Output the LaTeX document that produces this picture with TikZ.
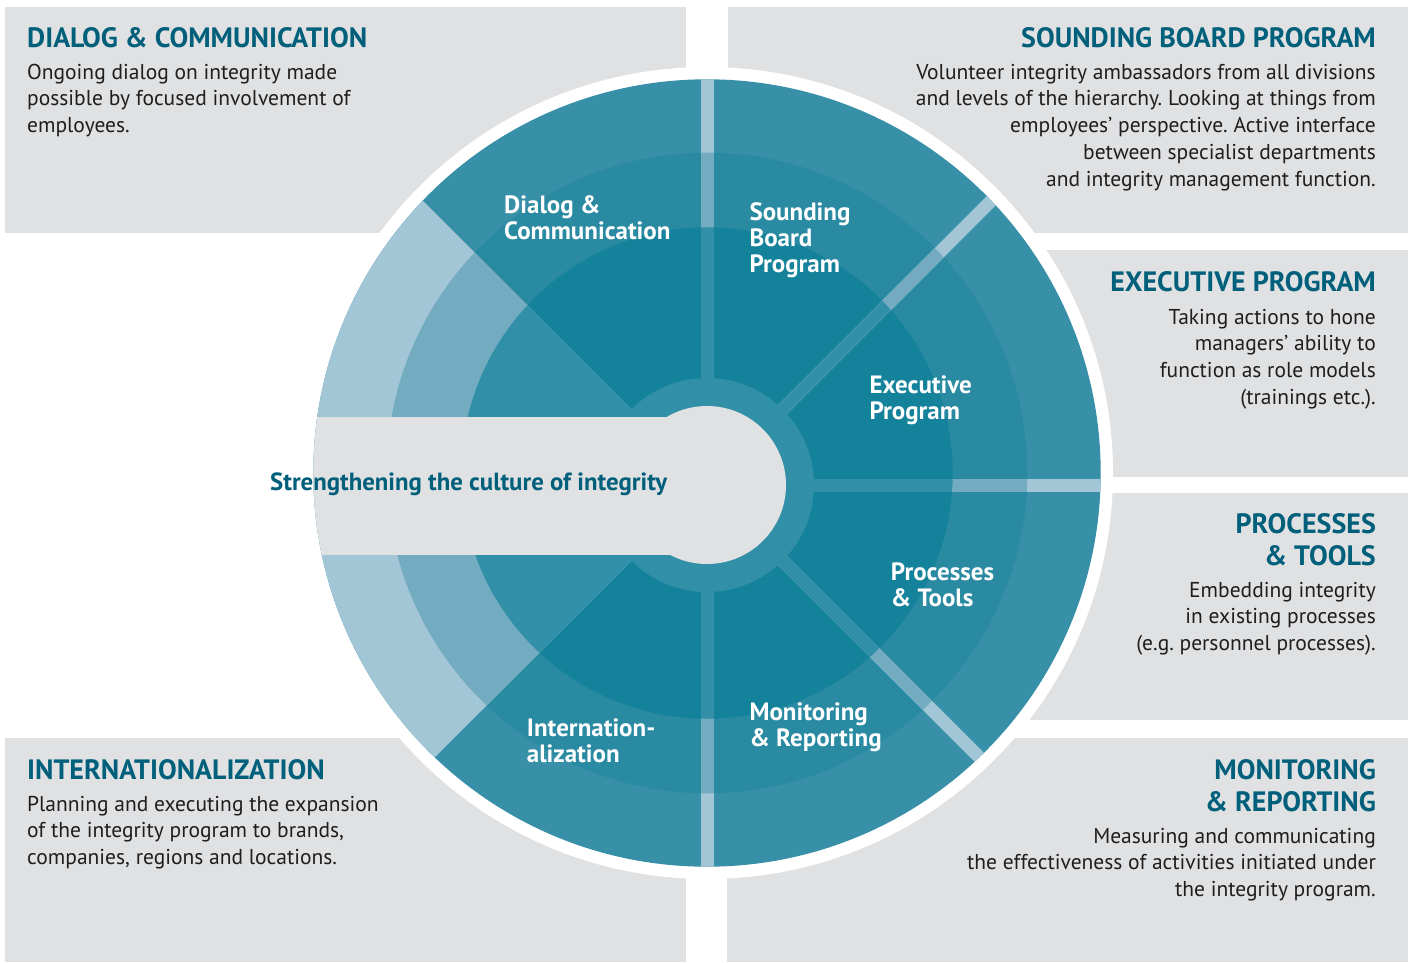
\documentclass[tikz,border=0pt]{standalone}
\usepackage{fontspec}
\setmainfont{PT Sans}
\frenchspacing
\definecolor{greyc}{HTML}{E0E1E3}
\definecolor{ringA}{HTML}{3790A8}
\definecolor{ringB}{HTML}{298AA2}
\definecolor{ringC}{HTML}{15829C}
\definecolor{hubc}{HTML}{318FA8}
\definecolor{lightA}{HTML}{A3C6D6}
\definecolor{lightB}{HTML}{73ACC0}
\definecolor{headc}{HTML}{005F7A}
\definecolor{bodyc}{HTML}{1E1E1E}
\newcommand\tstrut{\rule{0pt}{24pt}}
\tikzset{
  box/.style={fill=greyc, draw=none},
  head/.style={font=\bfseries\fontsize{28}{32}\selectfont, text=headc, inner sep=0},
  body/.style={font=\fontsize{21.5}{26.75}\selectfont, text=bodyc, inner sep=0},
  seg/.style={font=\bfseries\fontsize{25}{26}\selectfont, text=white, inner sep=0, align=left, anchor=north west},
  spoke/.style={line width=13, line cap=butt},
}
\begin{document}
\begin{tikzpicture}[x=1pt,y=-1pt]
\useasboundingbox (0,0) rectangle (1413,963);
\fill[white] (0,0) rectangle (1413,963);
\coordinate (C) at (707,473);
\coordinate (H) at (707,485);
% grey boxes
\fill[box] (5,7) rectangle (686,233);
\fill[box] (728,7) rectangle (1408,233);
\fill[box] (1000,250) rectangle (1408,477);
\fill[box] (1000,493) rectangle (1408,720);
\fill[box] (5,738) rectangle (686,962);
\fill[box] (727,738) rectangle (1408,962);
% white border
\fill[white] (C) circle[radius=406];
% rings
\fill[ringA] (C) circle[radius=393.7];
\fill[ringB] (C) circle[radius=320.3];
\fill[ringC] (C) circle[radius=245.7];
% left sector
\begin{scope}
  \clip (H) -- ++(-800,-800) -- ++(0,1600) -- cycle;
  \fill[lightA] (C) circle[radius=393.7];
  \fill[lightB] (C) circle[radius=320.3];
  \fill[hubc] (C) circle[radius=245.7];
\end{scope}
% spokes
\begin{scope}
  \clip (C) circle[radius=393.7];
  \foreach \a in {90,45,0,-45,-90} \draw[spoke, lightA] (H) -- ++(\a:420);
\end{scope}
\begin{scope}
  \clip (C) circle[radius=320.3];
  \foreach \a in {90,45,0,-45,-90} \draw[spoke, lightB] (H) -- ++(\a:420);
\end{scope}
\begin{scope}
  \clip (C) circle[radius=245.7];
  \foreach \a in {90,45,0,-45,-90} \draw[spoke, hubc] (H) -- ++(\a:420);
\end{scope}
% hub
\fill[hubc] (H) circle[radius=107];
\begin{scope}
  \clip (C) circle[radius=393.7];
  \fill[greyc] (300,417) rectangle (670,555);
\end{scope}
\fill[greyc] (H) circle[radius=79];
% centre label
\node[head, font=\bfseries\fontsize{24.8}{26}\selectfont, anchor=base west] (core) at (270,490) {Strengthening the culture of integrity};
% segment labels
\node[seg] (sDC) at (504,189.3) {\tstrut Dialog \&\\Communication};
\node[seg] (sSB) at (749.3,196) {\tstrut Sounding\\Board\\Program};
\node[seg] (sEP) at (869.3,369.3) {\tstrut Executive\\Program};
\node[seg] (sPT) at (890.7,556.7) {\tstrut Processes\\\& Tools};
\node[seg] (sMR) at (749.3,696.7) {\tstrut Monitoring\\\& Reporting};
\node[seg] (sIN) at (526.7,712.7) {\tstrut Internation-\\alization};
% corner texts
\node[head, anchor=base west] (hDC) at (27,48) {DIALOG \& COMMUNICATION};
\node[body, align=left, anchor=north west] (bDC) at (27,55) {\tstrut Ongoing dialog on integrity made\\possible by focused involvement of\\employees.};
\node[head, anchor=base east] (hSB) at (1376,48) {SOUNDING BOARD PROGRAM};
\node[body, align=right, anchor=north east] (bSB) at (1376,55) {\tstrut Volunteer integrity ambassadors from all divisions\\and levels of the hierarchy. Looking at things from\\employees’ perspective. Active interface\\between specialist departments\\and integrity management function.};
\node[head, anchor=base east] (hEP) at (1376,291) {EXECUTIVE PROGRAM};
\node[body, align=right, anchor=north east] (bEP) at (1376,300) {\tstrut Taking actions to hone\\managers’ ability to\\function as role models\\(trainings etc.).};
\node[head, align=right, anchor=north east] (hPT) at (1376,509) {\tstrut PROCESSES\\\& TOOLS};
\node[body, align=right, anchor=north east] (bPT) at (1376,573) {\tstrut Embedding integrity\\in existing processes\\(e.g. personnel processes).};
\node[head, anchor=base west] (hIN) at (27,779) {INTERNATIONALIZATION};
\node[body, align=left, anchor=north west] (bIN) at (27,787) {\tstrut Planning and executing the expansion\\of the integrity program to brands,\\companies, regions and locations.};
\node[head, align=right, anchor=north east] (hMR) at (1376,755) {\tstrut MONITORING\\\& REPORTING};
\node[body, align=right, anchor=north east] (bMR) at (1376,819) {\tstrut Measuring and communicating\\the effectiveness of activities initiated under\\the integrity program.};
\end{tikzpicture}
\end{document}
